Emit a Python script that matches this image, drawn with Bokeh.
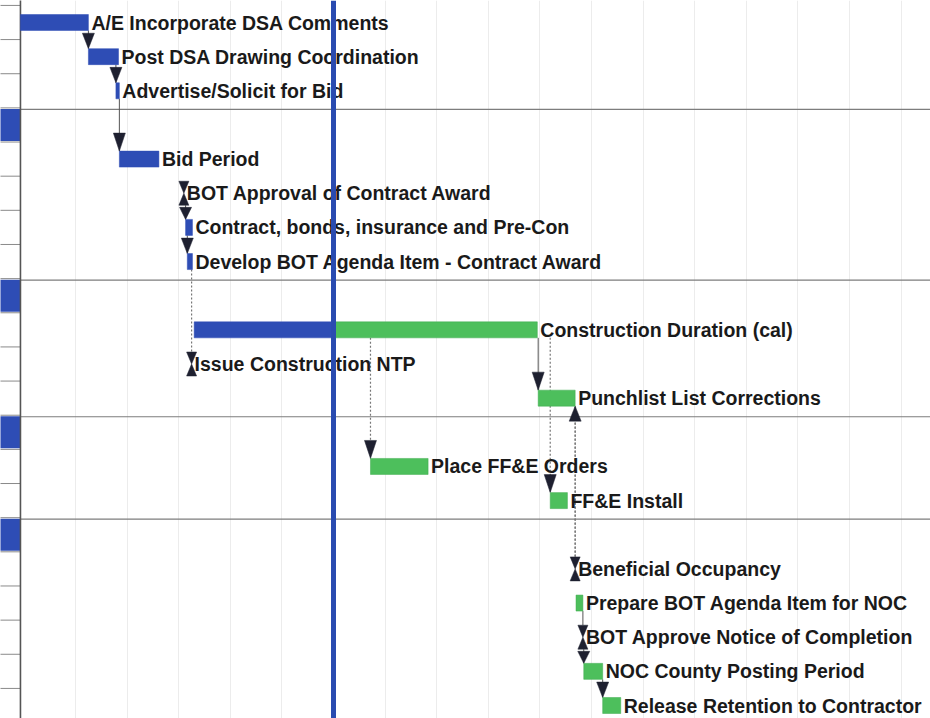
from bokeh.plotting import figure
from bokeh.models import Range1d, Span, FixedTicker, ColumnDataSource
from bokeh.core.properties import value
from bokeh.embed import file_html
from bokeh.resources import INLINE

# ---------------- data (days relative to first month gridline) ----------------
task_rows = [0, 1, 2, 4, 5, 6, 7, 9, 10, 11, 13, 14, 16, 17, 18, 19, 20]
task_names = [
    "A/E Incorporate DSA Comments",
    "Post DSA Drawing Coordination",
    "Advertise/Solicit for Bid",
    "Bid Period",
    "BOT Approval of Contract Award",
    "Contract, bonds, insurance and Pre-Con",
    "Develop BOT Agenda Item - Contract Award",
    "Construction Duration (cal)",
    "Issue Construction NTP",
    "Punchlist List Corrections",
    "Place FF&E Orders",
    "FF&E Install",
    "Beneficial Occupancy",
    "Prepare BOT Agenda Item for NOC",
    "BOT Approve Notice of Completion",
    "NOC County Posting Period",
    "Release Retention to Contractor",
]
task_start = [-32, 7.5, 23.5, 25.5, 63, 64, 65, 69, 67.5, 269, 171.5, 276, 290.5, 291, 295, 295.5, 306.5]
task_end = [7.5, 25, 25.5, 48.5, 63, 68, 68, 268.5, 67.5, 290.5, 205, 286, 290.5, 295, 295, 306.5, 317]
group_rows = [3, 8, 12, 15]
status_day = 150
chart_start = -32
month_ticks = list(range(0, 481, 30))
link_pred = [0, 1, 2, 5, 6, 7, 9, 9, 9, 16, 11, 17, 18, 19]
link_succ = [1, 2, 4, 6, 7, 10, 11, 13, 14, 11, 16, 18, 19, 20]
link_type = ["FS", "FS", "FS", "FS", "FS", "FS", "FS", "FS", "FS", "FF", "FS", "FS", "FS", "FS"]

# ---------------- styling / geometry ----------------
PX_DAY = 1.72
PX_ROW = 34.15
X0 = -75 / PX_DAY
Y_TOP = -22 / PX_ROW
W, H = 930, 718
BLUE = "#2E4DB5"
GREEN = "#4DBF5C"
DARK = "#1E2030"

def dx(px):
    return px / PX_DAY

def dy(px):
    return px / PX_ROW

BH = dy(16) / 2       # half bar height
MH = dy(12)           # half milestone height

p = figure(width=W, height=H, output_backend="svg", toolbar_location=None,
           x_range=Range1d(X0, X0 + W / PX_DAY),
           y_range=Range1d(Y_TOP + H / PX_ROW, Y_TOP),
           min_border=0, outline_line_color=None)
p.axis.visible = False
p.ygrid.visible = False
p.xgrid.ticker = FixedTicker(ticks=month_ticks)
p.xgrid.grid_line_color = "#ececec"
p.xgrid.grid_line_width = 1
p.background_fill_color = "white"

row_of = {r: i for i, r in enumerate(task_rows)}

# left column (table edge): row separators, summary blocks, border
lx0 = X0 - 2
sep_y = [r + 0.5 for r in range(-1, 21)]
p.segment(x0=[lx0] * len(sep_y), x1=[chart_start] * len(sep_y), y0=sep_y, y1=sep_y,
          line_color="#8a8a8a", line_width=1)
p.quad(left=[lx0] * len(group_rows), right=[chart_start] * len(group_rows),
       top=[g - 0.47 for g in group_rows], bottom=[g + 0.47 for g in group_rows],
       fill_color=BLUE, line_color=None)
# summary row separators across chart
gy = [g - 0.455 for g in group_rows]
p.segment(x0=[chart_start] * len(gy), x1=[X0 + W / PX_DAY + 5] * len(gy), y0=gy, y1=gy,
          line_color="#7d7d7d", line_width=1.2)
p.segment(x0=[chart_start], x1=[chart_start], y0=[-1], y1=[22], line_color="#555555", line_width=1.6)

# links
sx, sy0, sy1 = [], [], []   # short links: solid
dxs, dy0, dy1 = [], [], []  # long links: dotted
hx, hy = [], []
for pr, su, ty in zip(link_pred, link_succ, link_type):
    pi, si = row_of[pr], row_of[su]
    pm = task_start[pi] == task_end[pi]
    sm = task_start[si] == task_end[si]
    if ty == "FS":
        x = task_start[si]
        y0 = pr + (MH if pm else BH)
        tip = su - (MH if sm else BH)
        if not sm:
            h = min(dy(18), (tip - y0) * 0.85)
            w = dx(12)
            hx.append([x - w / 2, x + w / 2, x]); hy.append([tip - h, tip - h, tip])
    else:
        x = task_end[si]
        y0 = pr - (MH if pm else BH)
        tip = su + (MH if sm else BH)
        h = dy(15)
        w = dx(12)
        hx.append([x - w / 2, x + w / 2, x]); hy.append([tip + h, tip + h, tip])
    if abs(su - pr) > 2:
        dxs.append(x); dy0.append(y0); dy1.append(tip)
    else:
        sx.append(x); sy0.append(y0); sy1.append(tip)
p.segment(x0=sx, x1=sx, y0=sy0, y1=sy1, line_color="#555555", line_width=1)
p.segment(x0=dxs, x1=dxs, y0=dy0, y1=dy1, line_color="#777777", line_width=1.2, line_dash="2 2")
p.patches(xs=hx, ys=hy, fill_color=DARK, line_color=DARK, line_width=0.5)

# bars (portion before status date blue, after green)
bl, br, bt, bb = [], [], [], []
gl, gr, gt, gb = [], [], [], []
for r, s, e in zip(task_rows, task_start, task_end):
    if s == e:
        continue
    if s < status_day:
        bl.append(s); br.append(min(e, status_day)); bt.append(r - BH); bb.append(r + BH)
    if e > status_day:
        gl.append(max(s, status_day)); gr.append(e); gt.append(r - BH); gb.append(r + BH)
p.quad(left=bl, right=br, top=bt, bottom=bb, fill_color=BLUE, line_color=BLUE, line_width=0.5)
p.quad(left=gl, right=gr, top=gt, bottom=gb, fill_color=GREEN, line_color="#3faa4e", line_width=0.5)

# milestones (hourglass)
mx, my = [], []
for r, s, e in zip(task_rows, task_start, task_end):
    if s == e:
        w = dx(10)
        mx.append([s - w / 2, s + w / 2, s]); my.append([r - MH, r - MH, r])
        mx.append([s - w / 2, s + w / 2, s]); my.append([r + MH, r + MH, r])
p.patches(xs=mx, ys=my, fill_color=DARK, line_color=DARK, line_width=0.5)

# status date line
p.add_layout(Span(location=status_day, dimension="height", line_color="#2A4BB0", line_width=5))

# labels
src = ColumnDataSource(dict(x=task_end, y=task_rows, t=task_names))
p.text(x="x", y="y", text="t", source=src, x_offset=3, text_baseline="middle",
       text_font=value("Liberation Sans"), text_font_style="bold",
       text_font_size="19.5px", text_color="#1a1a1a")

open("out.html", "w").write(file_html(p, INLINE))
